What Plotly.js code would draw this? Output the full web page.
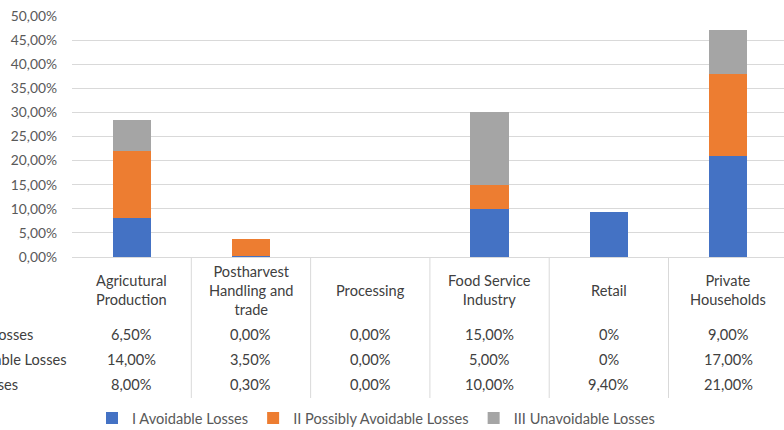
<!DOCTYPE html>
<html><head><meta charset="utf-8">
<script src="https://cdn.plot.ly/plotly-3.0.1.min.js"></script>
<style>html,body{margin:0;padding:0;background:#fff;}#chart{width:784px;height:430px;}</style>
</head><body><div id="chart"></div>
<script>
const categories = ["Agricutural Production", "Postharvest Handling and trade", "Processing", "Food Service Industry", "Retail", "Private Households"];
const categoryLabels = ["Agricutural<br>Production", "Postharvest<br>Handling and<br>trade", "Processing", "Food Service<br>Industry", "Retail", "Private<br>Households"];
const seriesNames = ["I Avoidable Losses", "II Possibly Avoidable Losses", "III Unavoidable Losses"];
const avoidable = [0.08, 0.003, 0.0, 0.10, 0.094, 0.21];
const possiblyAvoidable = [0.14, 0.035, 0.0, 0.05, 0.0, 0.17];
const unavoidable = [0.065, 0.0, 0.0, 0.15, 0.0, 0.09];
const rowUnavoidable = ["6,50%", "0,00%", "0,00%", "15,00%", "0%", "9,00%"];
const rowPossibly = ["14,00%", "3,50%", "0,00%", "5,00%", "0%", "17,00%"];
const rowAvoidable = ["8,00%", "0,30%", "0,00%", "10,00%", "9,40%", "21,00%"];
const colors = ["#4472c4", "#ed7d31", "#a5a5a5"];

const FONT = "Lato, 'Open Sans', sans-serif";
const TXT = 14.6;
const traces = [avoidable, possiblyAvoidable, unavoidable].map((v, i) => ({
  type: "bar", x: categories, y: v, name: seriesNames[i],
  marker: {color: colors[i], line: {color: "#ffffff", width: 0}},
  width: 0.32, hoverinfo: "skip"
}));

const plotH = 241;
const py = p => (257 - p) / plotH;
const px = p => (p - 72) / 712;

const annotations = [];
categories.forEach((c, i) => {
  annotations.push({x: c, xref: "x", y: py(290), yref: "paper", text: categoryLabels[i], showarrow: false,
    xanchor: "center", yanchor: "middle", align: "center", font: {family: FONT, size: TXT, color: "#404040"}});
  [[rowUnavoidable, 334], [rowPossibly, 359], [rowAvoidable, 384]].forEach(([row, yy]) => {
    annotations.push({x: c, xref: "x", y: py(yy), yref: "paper", text: row[i], showarrow: false,
      xanchor: "center", yanchor: "middle", font: {family: FONT, size: TXT, color: "#404040"}});
  });
});
[[seriesNames[2], 334, 35], [seriesNames[1], 359, 69], [seriesNames[0], 384, 20]].forEach(([t, yy, xe]) => {
  annotations.push({x: px(xe), xref: "paper", y: py(yy), yref: "paper", text: t, showarrow: false,
    xanchor: "right", yanchor: "middle", font: {family: FONT, size: TXT, color: "#404040"}});
});

const shapes = [];
for (let i = 0; i < 5; i++) {
  shapes.push({type: "line", xref: "x", yref: "paper", x0: i + 0.5, x1: i + 0.5, y0: 0, y1: py(398),
    line: {color: "#d9d9d9", width: 1}});
}

const layout = {
  width: 784, height: 430,
  margin: {l: 72, r: 0, t: 16, b: 173, autoexpand: false},
  paper_bgcolor: "#ffffff", plot_bgcolor: "#ffffff",
  separators: ",.",
  barmode: "stack",
  showlegend: true,
  legend: {orientation: "h", x: px(92), xref: "paper", xanchor: "left", y: py(418), yanchor: "middle",
    font: {family: FONT, size: TXT, color: "#595959"}, itemwidth: 30, traceorder: "normal"},
  xaxis: {type: "category", range: [-0.5, 5.468], showticklabels: false, showgrid: false,
    showline: true, linecolor: "#d9d9d9", linewidth: 1, zeroline: false, fixedrange: true},
  yaxis: {range: [0, 0.5], dtick: 0.05, tickformat: ".2%", showgrid: true, gridcolor: "#d9d9d9", gridwidth: 1,
    zeroline: false, showline: false, ticks: "", ticklabelstandoff: 14,
    tickfont: {family: FONT, size: 13.8, color: "#595959"}, fixedrange: true},
  annotations: annotations,
  shapes: shapes
};
Plotly.newPlot("chart", traces, layout, {displayModeBar: false, staticPlot: true});
</script></body></html>
